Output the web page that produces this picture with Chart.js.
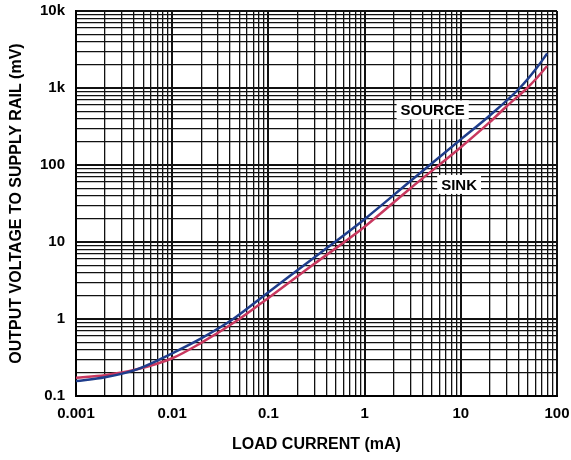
<!DOCTYPE html>
<html>
<head>
<meta charset="utf-8">
<script src="https://cdn.jsdelivr.net/npm/chart.js@4/dist/chart.umd.min.js"></script>
<style>
  html, body { margin: 0; padding: 0; background: #fff; }
  #wrap { width: 571px; height: 460px; }
</style>
</head>
<body>
<div id="wrap"><canvas id="grafico"></canvas></div>
<script>
// load current (mA) / output voltage to rail (mV)
const sourceX = [0.001, 0.002, 0.0043, 0.01, 0.02, 0.043, 0.1, 0.3, 1, 3, 10, 20, 41, 60, 79];
const sourceY = [0.156, 0.175, 0.222, 0.359, 0.56, 1.0, 2.23, 6.3, 19.8, 62, 215, 440, 1000, 1750, 2800];

const sinkX = [0.001, 0.002, 0.0043, 0.01, 0.02, 0.05, 0.1, 0.3, 1, 3, 10, 20, 30, 49, 60, 79];
const sinkY = [0.173, 0.186, 0.222, 0.309, 0.49, 1.0, 1.88, 5.2, 15.8, 50, 170, 360, 580, 1000, 1300, 1930];

const xDecades = [0.001, 0.01, 0.1, 1, 10, 100];
const xTickLabels = ['0.001', '0.01', '0.1', '1', '10', '100'];
const yDecades = [0.1, 1, 10, 100, 1000, 10000];
const yTickLabels = ['0.1', '1', '10', '100', '1k', '10k'];

const curveLabels = [
    { text: 'SOURCE', x: 5.1, y: 520 },
    { text: 'SINK', x: 9.6, y: 56 }
];

const fonte = 'Liberation Sans, Arial, sans-serif';

function toPoints(xs, ys) {
    return xs.map((x, i) => ({ x: x, y: ys[i] }));
}

// 1..9 per decade, like the printed log paper
function logTicks(decades) {
    const ticks = [];
    decades.forEach((d, i) => {
        if (i === decades.length - 1) {
            ticks.push({ value: d, major: true });
            return;
        }
        for (let k = 1; k <= 9; k++) {
            ticks.push({ value: parseFloat((k * d).toPrecision(6)), major: k === 1 });
        }
    });
    return ticks;
}

function labelFor(value, decades, labels) {
    const idx = decades.findIndex(d => Math.abs(d - value) / d < 1e-6);
    return idx >= 0 ? labels[idx] : '';
}

const curveTextPlugin = {
    id: 'curveText',
    afterDatasetsDraw(chart) {
        const ctx = chart.ctx;
        const sx = chart.scales.x;
        const sy = chart.scales.y;
        ctx.save();
        ctx.font = 'bold 15px ' + fonte;
        ctx.textAlign = 'center';
        ctx.textBaseline = 'middle';
        curveLabels.forEach(l => {
            const px = sx.getPixelForValue(l.x);
            const py = sy.getPixelForValue(l.y);
            const w = ctx.measureText(l.text).width + 8;
            ctx.fillStyle = '#fff';
            ctx.fillRect(px - w / 2, py - 9.5, w, 19);
            ctx.fillStyle = '#000';
            ctx.fillText(l.text, px, py + 1);
        });
        ctx.restore();
    }
};

const gridStyle = {
    color: '#111',
    lineWidth: ctx => (ctx.tick && ctx.tick.major) ? 2 : 1.3,
    drawTicks: false
};

new Chart(document.getElementById('grafico').getContext('2d'), {
    type: 'line',
    data: {
        datasets: [{
            label: 'SOURCE',
            data: toPoints(sourceX, sourceY),
            borderColor: '#1f3d8c',
            borderWidth: 2.5,
            pointRadius: 0,
            cubicInterpolationMode: 'monotone',
            fill: false
        }, {
            label: 'SINK',
            data: toPoints(sinkX, sinkY),
            borderColor: '#c8385f',
            borderWidth: 2.5,
            pointRadius: 0,
            cubicInterpolationMode: 'monotone',
            fill: false
        }]
    },
    options: {
        responsive: true,
        maintainAspectRatio: false,
        animation: false,
        devicePixelRatio: 1,
        layout: { padding: { left: 0, right: 14, top: 11, bottom: 0 } },
        plugins: {
            legend: { display: false },
            tooltip: { enabled: false }
        },
        scales: {
            x: {
                type: 'logarithmic',
                min: 0.001,
                max: 100,
                afterBuildTicks: scale => { scale.ticks = logTicks(xDecades); },
                afterFit: scale => {
                    scale.height = 64;
                    scale.paddingLeft = 0;
                    scale.paddingRight = 0;
                },
                grid: gridStyle,
                border: { color: '#000', width: 2 },
                ticks: {
                    autoSkip: false,
                    maxRotation: 0,
                    padding: 9,
                    color: '#000',
                    font: { family: fonte, size: 15, weight: 'bold' },
                    callback: value => labelFor(value, xDecades, xTickLabels)
                },
                title: {
                    display: true,
                    text: 'LOAD CURRENT (mA)',
                    color: '#000',
                    font: { family: fonte, size: 16, weight: 'bold' },
                    padding: { top: 0, bottom: 6 }
                }
            },
            y: {
                type: 'logarithmic',
                min: 0.1,
                max: 10000,
                afterBuildTicks: scale => { scale.ticks = logTicks(yDecades); },
                afterFit: scale => {
                    scale.width = 76;
                    scale.paddingTop = 0;
                    scale.paddingBottom = 0;
                },
                grid: gridStyle,
                border: { color: '#000', width: 2 },
                ticks: {
                    autoSkip: false,
                    padding: 11,
                    color: '#000',
                    font: { family: fonte, size: 15, weight: 'bold' },
                    callback: value => labelFor(value, yDecades, yTickLabels)
                },
                title: {
                    display: true,
                    text: 'OUTPUT VOLTAGE TO SUPPLY RAIL (mV)',
                    color: '#000',
                    font: { family: fonte, size: 16, weight: 'bold' },
                    padding: { top: 7, bottom: 0 }
                }
            }
        }
    },
    plugins: [curveTextPlugin]
});
</script>
</body>
</html>
